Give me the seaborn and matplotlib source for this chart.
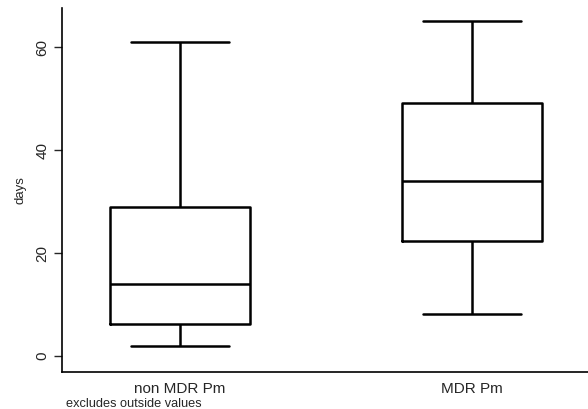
import pandas as pd
import seaborn as sns
import matplotlib.pyplot as plt

# groups and the five values (low whisker, Q1, median, Q3, high whisker)
groups = ['non MDR Pm', 'MDR Pm']
non_mdr_days = [1.9, 6.2, 14.0, 28.9, 61.0]
mdr_days = [8.2, 22.3, 34.0, 49.1, 65.2]

df = pd.DataFrame({
    'group': [groups[0]] * len(non_mdr_days) + [groups[1]] * len(mdr_days),
    'days': non_mdr_days + mdr_days,
})

sns.set_style('white')
plt.rcParams['font.family'] = ['Liberation Sans', 'DejaVu Sans']

fig = plt.figure(figsize=(5.88, 4.09), dpi=100)
ax = fig.add_axes([0.105, 0.0905, 0.895, 0.8895])

sns.boxplot(data=df, x='group', y='days', order=groups, fill=False,
            color='black', linecolor='black', linewidth=1.8, width=0.48,
            whis=1.5, showfliers=False, capwidths=0.336, ax=ax)

ax.set_xlim(-0.404, 1.397)
ax.set_ylim(-3.1, 67.6)
ax.set_yticks([0, 20, 40, 60])
ax.set_xlabel('')
ax.set_ylabel('days', fontsize=9.5, labelpad=6)
ax.tick_params(axis='y', left=True, length=6, width=1, labelsize=11,
               labelrotation=90, pad=3)
ax.tick_params(axis='x', bottom=False, labelsize=11, pad=4)
for lab in ax.get_yticklabels():
    lab.set_va('center')

sns.despine(ax=ax)
for s in ['left', 'bottom']:
    ax.spines[s].set_color('black')
    ax.spines[s].set_linewidth(1.2)

fig.text(0.112, 0.005, 'excludes outside values', fontsize=9.2)

plt.savefig('out.png', dpi=100)
